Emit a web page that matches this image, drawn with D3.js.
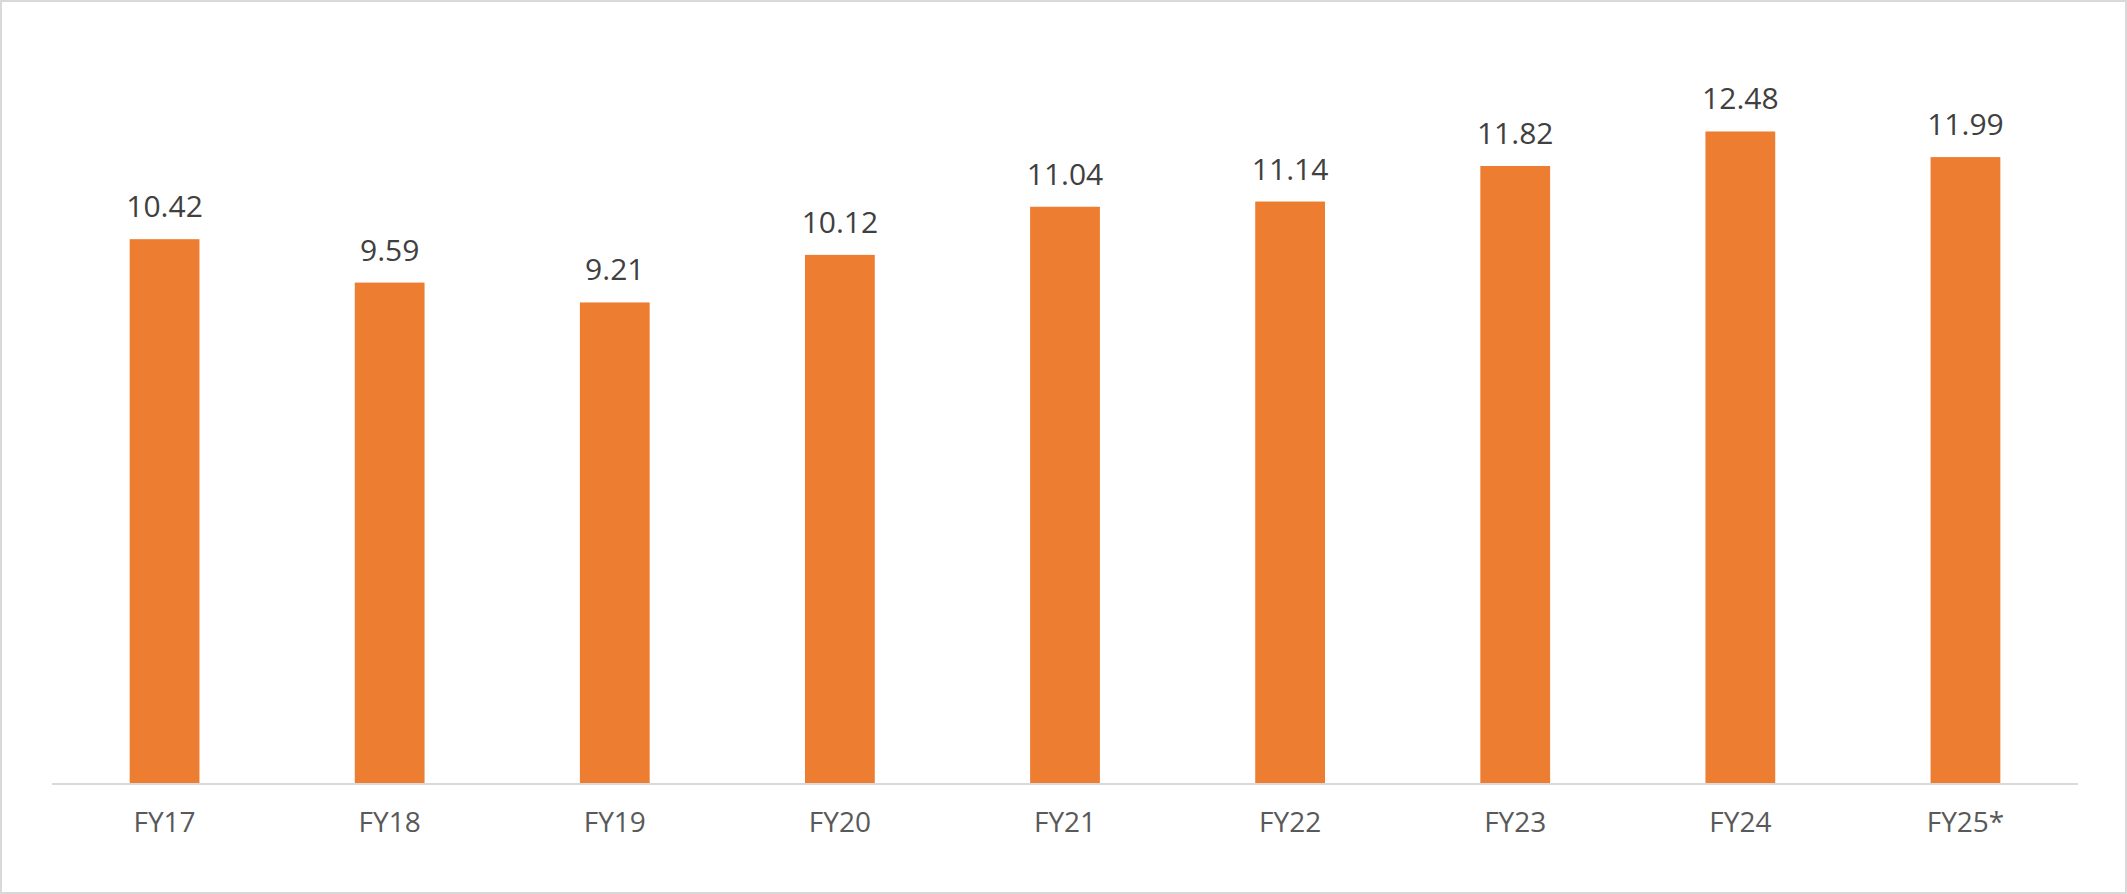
<!DOCTYPE html>
<html>
<head>
<meta charset="utf-8">
<script src="https://cdn.jsdelivr.net/npm/d3@7"></script>
<style>
  body { margin: 0; background: #fff; }
</style>
</head>
<body>
<div id="chart"></div>
<script>
const categories = ['FY17', 'FY18', 'FY19', 'FY20', 'FY21', 'FY22', 'FY23', 'FY24', 'FY25*'];
const values = [10.42, 9.59, 9.21, 10.12, 11.04, 11.14, 11.82, 12.48, 11.99];

const width = 2127, height = 894;
const margin = { top: 52, right: 49, bottom: 110, left: 52 };

const svg = d3.select('#chart').append('svg')
    .attr('width', width)
    .attr('height', height);

// outer border
svg.append('rect')
    .attr('x', 1).attr('y', 1)
    .attr('width', width - 2).attr('height', height - 2)
    .attr('fill', '#fff')
    .attr('stroke', '#d9d9d9')
    .attr('stroke-width', 2);

const xScale = d3.scaleBand()
    .domain(categories)
    .range([margin.left, width - margin.right])
    .paddingInner(0.69)
    .paddingOuter(0.345);

const yScale = d3.scaleLinear()
    .domain([0, 14])
    .range([height - margin.bottom, margin.top]);

svg.append('g')
    .selectAll('rect')
    .data(values)
    .join('rect')
    .attr('x', (d, i) => xScale(categories[i]))
    .attr('y', d => yScale(d))
    .attr('width', xScale.bandwidth())
    .attr('height', d => yScale(0) - yScale(d))
    .attr('fill', '#ED7D31');

// value labels
svg.append('g')
    .selectAll('text')
    .data(values)
    .join('text')
    .attr('x', (d, i) => xScale(categories[i]) + xScale.bandwidth() / 2)
    .attr('y', d => yScale(d) - 22)
    .attr('text-anchor', 'middle')
    .attr('font-family', 'Open Sans, sans-serif')
    .attr('font-size', 30)
    .attr('fill', '#404040')
    .text(d => d.toFixed(2));

// x axis
const xAxis = svg.append('g')
    .attr('transform', 'translate(0,' + yScale(0) + ')')
    .call(d3.axisBottom(xScale).tickSize(0).tickPadding(28));
xAxis.select('.domain')
    .attr('stroke', '#d9d9d9')
    .attr('stroke-width', 2)
    .attr('d', 'M' + margin.left + ',0H' + (width - margin.right));
xAxis.selectAll('text')
    .attr('font-family', 'Open Sans, sans-serif')
    .attr('font-size', 28)
    .attr('fill', '#595959');
</script>
</body>
</html>
